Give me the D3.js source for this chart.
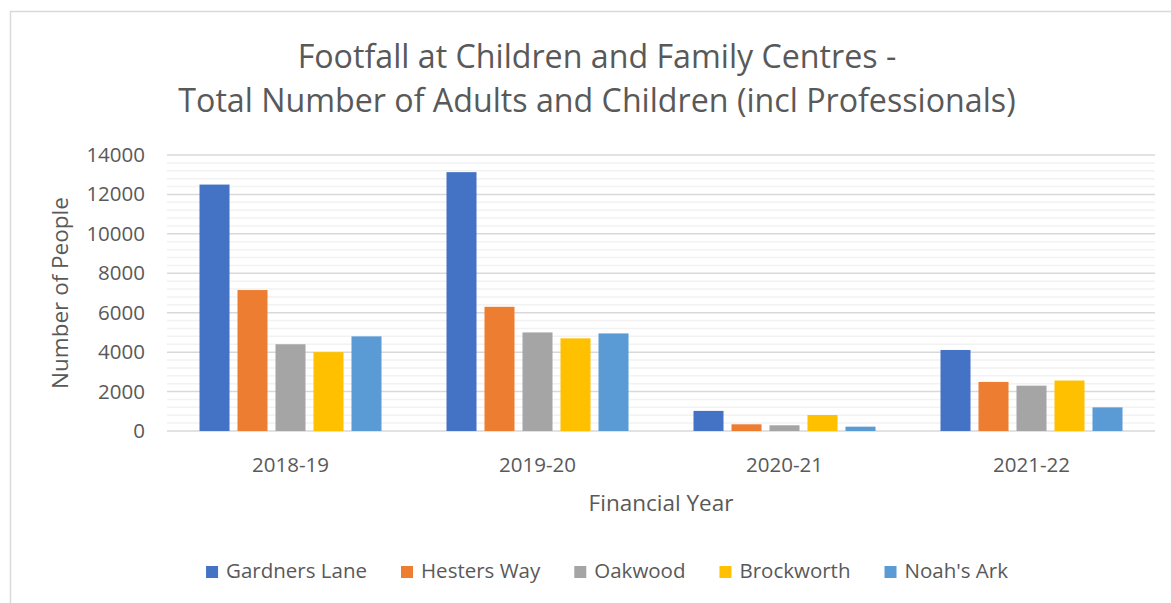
<!DOCTYPE html>
<html>
<head>
<meta charset="utf-8">
<script src="https://cdn.jsdelivr.net/npm/d3@7"></script>
<style>
  body { margin: 0; background: #fff; }
  text { font-family: "Open Sans", sans-serif; fill: #595959; }
</style>
</head>
<body>
<div id="chart"></div>
<script>
// data
const years = ['2018-19', '2019-20', '2020-21', '2021-22']
const centres = ['Gardners Lane', 'Hesters Way', 'Oakwood', 'Brockworth', "Noah's Ark"]
const gardnersLane = [12500, 13130, 1020, 4110]
const hestersWay = [7150, 6300, 340, 2490]
const oakwood = [4400, 5000, 290, 2300]
const brockworth = [4000, 4700, 810, 2560]
const noahsArk = [4800, 4950, 220, 1200]
const yTicks = [0, 2000, 4000, 6000, 8000, 10000, 12000, 14000]

const colors = ['#4472C4', '#ED7D31', '#A5A5A5', '#FFC000', '#5B9BD5']
const series = [gardnersLane, hestersWay, oakwood, brockworth, noahsArk]

/** set chart design */
var width = 1171,
  height = 603,
  margin = { top: 155, right: 16, bottom: 172, left: 167 }

var svg = d3.select('#chart').append('svg')
  .attr('width', width)
  .attr('height', height)

// chart border
svg.append('rect')
  .attr('x', 10.5)
  .attr('y', 11.5)
  .attr('width', 1170)
  .attr('height', 600)
  .style('fill', 'none')
  .style('stroke', '#d9d9d9')
  .style('stroke-width', 1.5)

var x0 = d3.scaleBand()
  .domain(years)
  .range([margin.left, width - margin.right])
  .paddingInner(0.2308)
  .paddingOuter(0.1154)

var x1 = d3.scaleBand()
  .domain(centres)
  .range([0, x0.bandwidth()])
  .paddingInner(0.21)
  .paddingOuter(0.105)

var y = d3.scaleLinear()
  .domain([0, 14000])
  .range([height - margin.bottom, margin.top])

// gridlines: minor every 400, major every 2000
var minor = d3.range(400, 14000, 400).filter(function (v) { return v % 2000 !== 0 })

svg.append('g')
  .selectAll('line')
  .data(minor)
  .enter().append('line')
  .attr('x1', margin.left)
  .attr('x2', width - margin.right)
  .attr('y1', function (d) { return y(d) })
  .attr('y2', function (d) { return y(d) })
  .style('stroke', '#f2f2f2')
  .style('stroke-width', 1.5)

svg.append('g')
  .selectAll('line')
  .data(yTicks)
  .enter().append('line')
  .attr('x1', margin.left)
  .attr('x2', width - margin.right)
  .attr('y1', function (d) { return y(d) })
  .attr('y2', function (d) { return y(d) })
  .style('stroke', '#d9d9d9')
  .style('stroke-width', 1.5)

// bars
var rows = years.map(function (yr, i) {
  return { year: yr, values: centres.map(function (c, j) { return { name: c, value: series[j][i], color: colors[j] } }) }
})

var groups = svg.append('g')
  .selectAll('g')
  .data(rows)
  .enter().append('g')
  .attr('transform', function (d) { return 'translate(' + x0(d.year) + ',0)' })

groups.selectAll('rect')
  .data(function (d) { return d.values })
  .enter().append('rect')
  .attr('x', function (d) { return x1(d.name) })
  .attr('y', function (d) { return y(d.value) })
  .attr('width', x1.bandwidth())
  .attr('height', function (d) { return y(0) - y(d.value) })
  .style('fill', function (d) { return d.color })

// axes
var yAxis = svg.append('g')
  .attr('transform', 'translate(' + margin.left + ',0)')
  .call(d3.axisLeft(y).tickValues(yTicks).tickSize(0).tickPadding(22).tickFormat(d3.format('d')))
yAxis.select('.domain').remove()
yAxis.selectAll('text')
  .attr('font-size', 20.5)
  .attr('font-family', null)
  .attr('fill', null)

var xAxis = svg.append('g')
  .attr('transform', 'translate(0,' + y(0) + ')')
  .call(d3.axisBottom(x0).tickSize(0).tickPadding(26))
xAxis.select('.domain').remove()
xAxis.selectAll('text')
  .attr('font-size', 20.5)
  .attr('font-family', null)
  .attr('fill', null)

// titles
svg.append('text')
  .attr('text-anchor', 'middle')
  .attr('x', 597)
  .attr('y', 68)
  .attr('font-size', 32.2)
  .text('Footfall at Children and Family Centres -')

svg.append('text')
  .attr('text-anchor', 'middle')
  .attr('x', 597)
  .attr('y', 112)
  .attr('font-size', 32.2)
  .text('Total Number of Adults and Children (incl Professionals)')

svg.append('text')
  .attr('text-anchor', 'middle')
  .attr('transform', 'translate(68,' + (margin.top + y(0)) / 2 + ') rotate(-90)')
  .attr('font-size', 22.5)
  .text('Number of People')

svg.append('text')
  .attr('text-anchor', 'middle')
  .attr('x', 661)
  .attr('y', 511)
  .attr('font-size', 22.5)
  .text('Financial Year')

// legend
var legend = svg.append('g')
var lx = 0
centres.forEach(function (c, i) {
  var item = legend.append('g').attr('transform', 'translate(' + lx + ',0)')
  item.append('rect')
    .attr('x', 0)
    .attr('y', -12)
    .attr('width', 12)
    .attr('height', 12)
    .style('fill', colors[i])
  var t = item.append('text')
    .attr('x', 20)
    .attr('y', 0)
    .attr('font-size', 20.5)
    .text(c)
  lx += 20 + t.node().getComputedTextLength() + 34
})
lx -= 34
legend.attr('transform', 'translate(' + (607 - lx / 2) + ',578)')
</script>
</body>
</html>
